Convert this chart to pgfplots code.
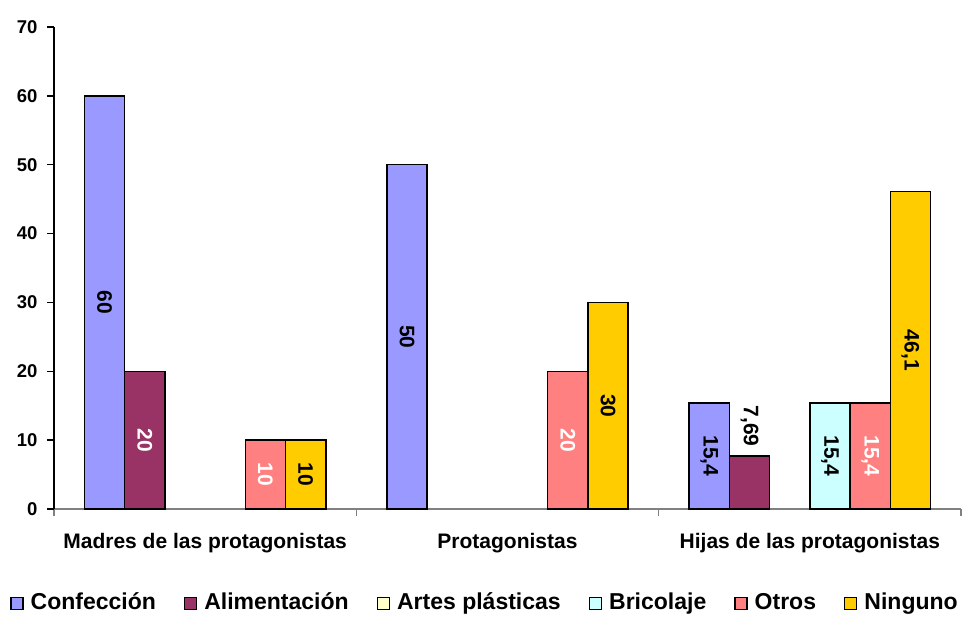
\documentclass[border=0pt]{standalone}
\usepackage{pgfplots}
\pgfplotsset{compat=1.18}
\usepackage{fontspec}
\setmainfont{Liberation Sans}
\definecolor{confeccion}{HTML}{9999FF}
\definecolor{alimentacion}{HTML}{993366}
\definecolor{artes}{HTML}{FFFFCC}
\definecolor{bricolaje}{HTML}{CCFFFF}
\definecolor{otros}{HTML}{FF8080}
\definecolor{ninguno}{HTML}{FFCC00}
\pgfplotsset{
  sq/.style={legend image code/.code={\draw[##1, draw=black, line width=1.4pt] (0pt,-6pt) rectangle (12pt,6pt);}},
  bars/.style n args={2}{ybar, bar width=40.2pt, bar shift=#2, fill=#1, draw=black, line width=1.5pt, sq},
  lbl/.style n args={2}{nodes near coords,
     visualization depends on={rawy \as \ry},
     every node near coord/.append style={font=\fontsize{21}{24}\selectfont\bfseries, text=#1, anchor=center, xshift=#2, yshift={-\ry*3.443pt}, rotate=-90, inner sep=0pt}},
}
\begin{document}
\begin{tikzpicture}
\begin{axis}[
  scale only axis,
  x=302.33pt, y=6.886pt,
  xmin=-0.5, xmax=2.5, ymin=0, ymax=70,
  clip=false,
  axis x line*=bottom, axis y line*=left,
  axis line style={-},
  x axis line style={draw=gray, line width=1.4pt},
  y axis line style={draw=black, line width=1.4pt},
  ytick={0,10,...,70},
  xtick={0,1,2},
  xticklabels={Madres de las protagonistas, Protagonistas, Hijas de las protagonistas},
  minor xtick={-0.5,0.5,1.5,2.5},
  tick align=outside,
  major tick length=7pt, minor tick length=7pt,
  major x tick style={draw=none},
  minor x tick style={draw=gray, line width=1.4pt},
  y tick style={draw=black, line width=1.4pt},
  yticklabel style={font=\fontsize{18.5}{20}\selectfont\bfseries, xshift=-6pt},
  xticklabel style={font=\fontsize{21}{24}\selectfont\bfseries, yshift=-14pt},
  /pgf/number format/assume math mode=true,
  /pgf/number format/use comma,
  legend columns=6,
  legend style={at={(0.4752,-0.196)}, anchor=center, draw=none, fill=none,
    font=\fontsize{23}{26}\selectfont\bfseries,
    nodes={text height=16.5pt, text depth=5pt},
    /tikz/every odd column/.append style={column sep=5pt},
    /tikz/every even column/.append style={column sep=26pt}},
  sq,
]
\path (rel axis cs:-0.0595,1.056) rectangle (rel axis cs:1.0099,-0.2199);
\addplot[bars={confeccion}{-100.5pt}, lbl={black}{-100.5pt}] coordinates {(0,60) (1,50) (2,15.4)};
\addlegendentry{Confección}
\addplot[bars={alimentacion}{-60.3pt}, lbl={white}{-60.3pt}] coordinates {(0,20)};
\addlegendentry{Alimentación}
\addplot[bars={alimentacion}{-60.3pt}, forget plot, nodes near coords,
  every node near coord/.append style={font=\fontsize{21}{24}\selectfont\bfseries, text=black, anchor=center, xshift=-60.3pt, yshift=30pt, rotate=-90, inner sep=0pt}]
  coordinates {(2,7.69)};
\addlegendimage{sq, fill=artes}
\addlegendentry{Artes plásticas}
\addplot[bars={bricolaje}{20.1pt}, lbl={black}{20.1pt}] coordinates {(2,15.4)};
\addlegendentry{Bricolaje}
\addplot[bars={otros}{60.3pt}, lbl={white}{60.3pt}] coordinates {(0,10) (1,20) (2,15.4)};
\addlegendentry{Otros}
\addplot[bars={ninguno}{100.5pt}, lbl={black}{100.5pt}] coordinates {(0,10) (1,30) (2,46.1)};
\addlegendentry{Ninguno}
\end{axis}
\end{tikzpicture}
\end{document}
